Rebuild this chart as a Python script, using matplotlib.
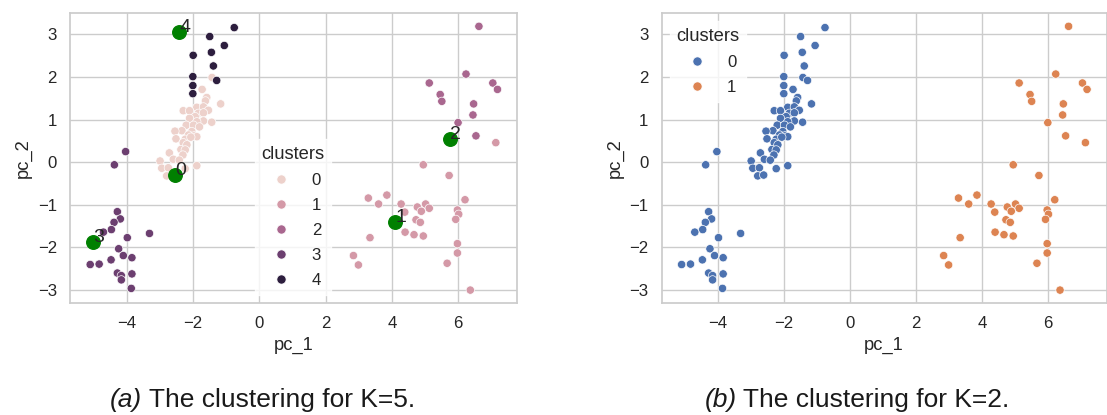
import matplotlib
matplotlib.use('Agg')
import matplotlib.pyplot as plt
import numpy as np
import pandas as pd
import seaborn as sns

# pca coordinates, grouped by the K=5 cluster they fall in
x0 = [-1.43, -1.73, -1.59, -1.63, -1.17, -1.89, -1.69, -1.54, -2.30, -2.11, -1.84, -1.69, -1.94, -2.11, -1.69,
      -1.44, -1.89, -2.21, -1.99, -1.81, -2.34, -2.55, -2.04, -2.14, -1.97, -1.89, -2.52, -2.24, -2.07, -2.30,
      -2.19, -2.37, -2.24, -2.72, -2.31, -2.60, -2.42, -3.00, -1.89, -2.95, -2.75, -2.24, -2.80, -2.62]
y0 = [1.99, 1.71, 1.52, 1.44, 1.37, 1.29, 1.30, 1.22, 1.21, 1.21, 1.15, 1.16, 1.07, 1.03, 0.97,
      0.94, 0.95, 0.87, 0.87, 0.83, 0.74, 0.73, 0.72, 0.64, 0.62, 0.60, 0.55, 0.54, 0.59, 0.46,
      0.41, 0.30, 0.29, 0.22, 0.17, 0.07, 0.05, 0.03, -0.08, -0.14, -0.13, -0.15, -0.32, -0.30]

x1 = [7.14, 4.95, 5.73, 3.29, 3.85, 3.60, 4.28, 4.77, 5.02, 5.13, 4.89, 4.39, 6.21, 5.98, 6.02, 5.93,
      4.73, 4.86, 4.40, 4.67, 4.95, 3.34, 5.98, 5.98, 2.84, 2.99, 5.67, 6.37]
y1 = [0.46, -0.06, -0.31, -0.84, -0.77, -0.98, -0.98, -1.05, -0.98, -1.08, -1.15, -1.17, -0.88, -1.12, -1.22, -1.34,
      -1.35, -1.41, -1.64, -1.70, -1.73, -1.77, -1.91, -2.13, -2.19, -2.41, -2.37, -3.00]

x2 = [6.63, 6.24, 5.13, 7.05, 7.19, 5.46, 5.51, 6.47, 6.45, 6.00, 6.54]
y2 = [3.19, 2.07, 1.86, 1.86, 1.71, 1.59, 1.43, 1.37, 1.11, 0.93, 0.62]

x3 = [-4.04, -4.38, -4.29, -4.20, -4.39, -4.47, -4.71, -3.99, -3.32, -4.25, -4.11, -3.85, -4.48, -5.11,
      -4.84, -4.29, -4.17, -4.17, -3.85, -3.87]
y3 = [0.25, -0.06, -1.16, -1.33, -1.41, -1.58, -1.64, -1.77, -1.67, -2.03, -2.19, -2.24, -2.29, -2.40,
      -2.39, -2.60, -2.66, -2.76, -2.62, -2.96]

x4 = [-0.76, -1.50, -1.06, -1.45, -2.00, -1.39, -1.29, -2.01, -2.01, -2.01]
y4 = [3.16, 2.95, 2.74, 2.58, 2.51, 2.26, 1.92, 2.01, 1.80, 1.61]

# which K=2 cluster each K=5 cluster ends up in
k2_of_k5 = {0: 0, 1: 1, 2: 1, 3: 0, 4: 0}

# K=5 centroids
cent_x = [-2.55, 4.10, 5.75, -5.02, -2.42]
cent_y = [-0.31, -1.41, 0.54, -1.86, 3.06]
cent_lab = ['0', '1', '2', '3', '4']

cap_tags = ['(a)', '(b)']
cap_texts = [' The clustering for K=5.', ' The clustering for K=2.']

groups = [(x0, y0), (x1, y1), (x2, y2), (x3, y3), (x4, y4)]
frames = []
for k, (gx, gy) in enumerate(groups):
    frames.append(pd.DataFrame({'pc_1': gx, 'pc_2': gy, 'clusters': k}))
df = pd.concat(frames, ignore_index=True)
df['k2'] = df['clusters'].map(k2_of_k5)

sns.set_theme(style='whitegrid', font_scale=1.1)
plt.rcParams['font.family'] = ['Liberation Sans', 'DejaVu Sans']
plt.rcParams['legend.labelspacing'] = 0.6

fig = plt.figure(figsize=(11.07, 4.15), dpi=100)
W, H = 1107.0, 415.0
ax1 = fig.add_axes([70 / W, 1 - 303.3 / H, 447 / W, 290.6 / H])
ax2 = fig.add_axes([661.5 / W, 1 - 303.3 / H, 445 / W, 290.6 / H])

# left: K=5, numeric hue -> cubehelix
sns.scatterplot(data=df, x='pc_1', y='pc_2', hue='clusters', ax=ax1)
ax1.scatter(cent_x, cent_y, s=95, c='green', zorder=3)
for cx, cy, t in zip(cent_x, cent_y, cent_lab):
    ax1.text(cx, cy, t, fontsize=14, color='.15', zorder=4)
leg = ax1.legend(title='clusters', loc='lower left', bbox_to_anchor=(0.394, 0.0), markerscale=1.1)
leg.get_frame().set_edgecolor('white')

# right: K=2
sns.scatterplot(data=df, x='pc_1', y='pc_2', hue='k2', palette=['C0', 'C1'], ax=ax2)
leg = ax2.legend(title='clusters', loc='upper left', markerscale=1.1)
leg.get_frame().set_edgecolor('white')

for ax in (ax1, ax2):
    ax.set_xlim(-5.72, 7.78)
    ax.set_ylim(-3.31, 3.51)
    ax.set_xticks([-4, -2, 0, 2, 4, 6])
    ax.set_yticks([-3, -2, -1, 0, 1, 2, 3])

# captions: italic tag followed by upright text, centred as one line
rend = fig.canvas.get_renderer()
for xc, tag, txt in zip([262, 857], cap_tags, cap_texts):
    a = fig.text(0, 8 / H, tag, style='italic', fontsize=19, va='baseline', color='k')
    b = fig.text(0, 8 / H, txt, fontsize=19, va='baseline', color='k')
    wa = a.get_window_extent(rend).width
    wb = b.get_window_extent(rend).width
    x_start = xc - (wa + wb) / 2
    a.set_x(x_start / W)
    b.set_x((x_start + wa) / W)

fig.savefig('out.png', dpi=100)
